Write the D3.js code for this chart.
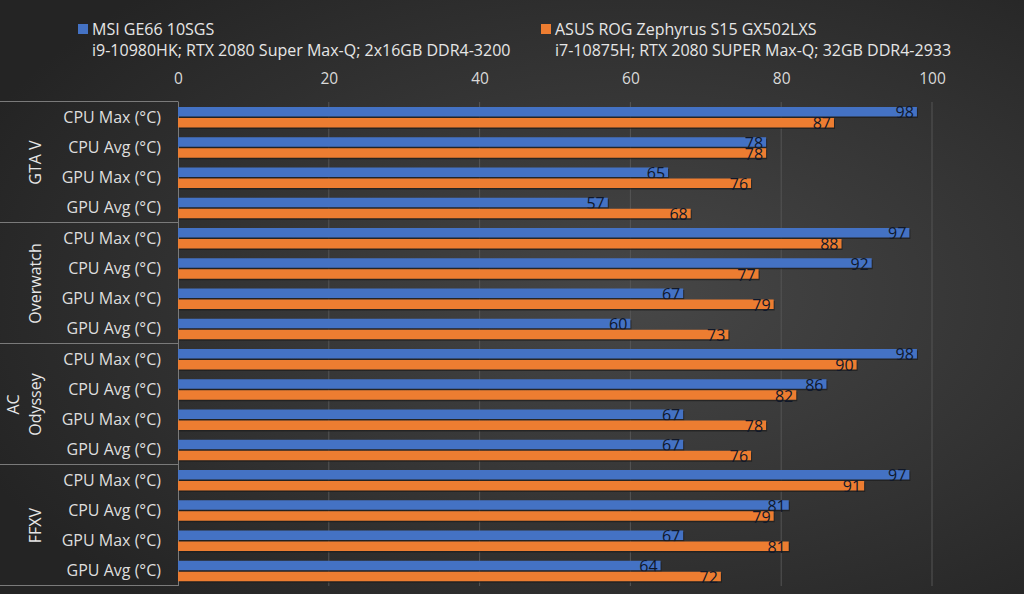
<!DOCTYPE html>
<html>
<head>
<meta charset="utf-8">
<script src="https://cdn.jsdelivr.net/npm/d3@7"></script>
<style>
  body { margin: 0; background: #2b2b2b; }
  svg { display: block; }
</style>
</head>
<body>
<div id="chart"></div>
<script>
// data
const games = ["GTA V", "Overwatch", "AC Odyssey", "FFXV"];
const metrics = ["CPU Max (°C)", "CPU Avg (°C)", "GPU Max (°C)", "GPU Avg (°C)"];
const msiValues = [98, 78, 65, 57, 97, 92, 67, 60, 98, 86, 67, 67, 97, 81, 67, 64];
const asusValues = [87, 78, 76, 68, 88, 77, 79, 73, 90, 82, 78, 76, 91, 79, 81, 72];
const seriesNames = ["MSI GE66 10SGS", "ASUS ROG Zephyrus S15 GX502LXS"];
const seriesSpecs = ["i9-10980HK; RTX 2080 Super Max-Q; 2x16GB DDR4-3200",
                     "i7-10875H; RTX 2080 SUPER Max-Q; 32GB DDR4-2933"];
const xTicks = [0, 20, 40, 60, 80, 100];

const width = 1024, height = 594;
const plotLeft = 178, plotRight = 932, plotTop = 102, plotBottom = 586;
const font = "'Open Sans', sans-serif";
const colors = ["#4472C4", "#ED7D31"];

const svg = d3.select("#chart").append("svg")
    .attr("width", width)
    .attr("height", height);

//background
const grad = svg.append("defs").append("radialGradient")
    .attr("id", "bg")
    .attr("cx", "62%").attr("cy", "50%").attr("r", "70%");
grad.append("stop").attr("offset", "0%").attr("stop-color", "#474747");
grad.append("stop").attr("offset", "100%").attr("stop-color", "#242424");
svg.append("rect").attr("width", width).attr("height", height).attr("fill", "url(#bg)");

//rows
const rows = [];
games.forEach((g, gi) => metrics.forEach((m, mi) => rows.push({ game: g, metric: m, i: gi * 4 + mi })));

const x = d3.scaleLinear().domain([0, 100]).range([plotLeft, plotRight]);
const y = d3.scaleBand().domain(rows.map(r => r.i)).range([plotTop, plotBottom]);
const groupY = d3.scaleBand().domain(games).range([plotTop, plotBottom]);

//grid
svg.append("g").selectAll("line").data(xTicks.slice(1)).join("line")
    .attr("x1", d => x(d)).attr("x2", d => x(d))
    .attr("y1", plotTop).attr("y2", plotBottom)
    .attr("stroke", "#555555").attr("stroke-width", 1);

//x axis labels
const xAxis = d3.axisTop(x).tickValues(xTicks).tickSize(0).tickPadding(0);
const ax = svg.append("g").attr("transform", `translate(0, 79)`).call(xAxis);
ax.select(".domain").remove();
ax.selectAll("text")
    .attr("fill", "#d9d9d9").attr("font-family", font).attr("font-size", 15.5)
    .attr("dy", 0).attr("y", 5);

//category box
const cat = svg.append("g");
cat.selectAll("line.sep").data(d3.range(games.length + 1)).join("line")
    .attr("x1", 0).attr("x2", plotLeft)
    .attr("y1", d => plotTop + d * groupY.bandwidth() - 0.5)
    .attr("y2", d => plotTop + d * groupY.bandwidth() - 0.5)
    .attr("stroke", "#7a7a7a");
cat.append("line")
    .attr("x1", plotLeft + 0.5).attr("x2", plotLeft + 0.5)
    .attr("y1", plotTop - 0.5).attr("y2", plotBottom)
    .attr("stroke", "#7a7a7a");

cat.selectAll("text.metric").data(rows).join("text")
    .attr("x", 161)
    .attr("y", d => y(d.i) + y.bandwidth() / 2)
    .attr("dy", "0.35em")
    .attr("text-anchor", "end")
    .attr("fill", "#dedede").attr("font-family", font).attr("font-size", 16)
    .text(d => d.metric);

games.forEach(g => {
    const cy = groupY(g) + groupY.bandwidth() / 2;
    const lines = g === "AC Odyssey" ? ["AC", "Odyssey"] : [g];
    const t = cat.append("text")
        .attr("transform", `translate(35, ${cy}) rotate(-90)`)
        .attr("text-anchor", "middle")
        .attr("fill", "#e6e6e6").attr("font-family", font).attr("font-size", 16);
    //last line sits on the usual column, earlier lines go left
    lines.forEach((l, li) => {
        t.append("tspan")
            .attr("x", 0)
            .attr("y", (li - (lines.length - 1)) * 22)
            .attr("dy", "0.35em")
            .text(l);
    });
});

//bars
const barH = 9.5;
const series = [msiValues, asusValues];
series.forEach((vals, si) => {
    const g = svg.append("g");
    const by = i => y(i) + 5 + si * 11;
    g.selectAll("rect.shadow").data(vals).join("rect")
        .attr("x", x(0) + 1)
        .attr("y", (d, i) => by(i) + 1.5)
        .attr("width", d => x(d) - x(0))
        .attr("height", barH)
        .attr("fill", "#1c1c1c").attr("opacity", 0.7);
    g.selectAll("rect.bar").data(vals).join("rect")
        .attr("x", x(0))
        .attr("y", (d, i) => by(i))
        .attr("width", d => x(d) - x(0))
        .attr("height", barH)
        .attr("fill", colors[si]);
    g.selectAll("text").data(vals).join("text")
        .attr("x", d => x(d) - 3)
        .attr("y", (d, i) => by(i) + barH / 2 + 1)
        .attr("dy", "0.35em")
        .attr("text-anchor", "end")
        .attr("fill", "#10182a").attr("font-family", font).attr("font-size", 16)
        .text(d => d);
});

//legend
const legendX = [78, 541];
seriesNames.forEach((n, i) => {
    svg.append("rect")
        .attr("x", legendX[i]).attr("y", 24)
        .attr("width", 10).attr("height", 10)
        .attr("fill", colors[i]);
    svg.append("text")
        .attr("x", legendX[i] + 14).attr("y", 35)
        .attr("fill", "#e6e6e6").attr("font-family", font).attr("font-size", 16)
        .text(n);
    svg.append("text")
        .attr("x", legendX[i] + 14).attr("y", 56)
        .attr("fill", "#e6e6e6").attr("font-family", font).attr("font-size", 16)
        .text(seriesSpecs[i]);
});
</script>
</body>
</html>
